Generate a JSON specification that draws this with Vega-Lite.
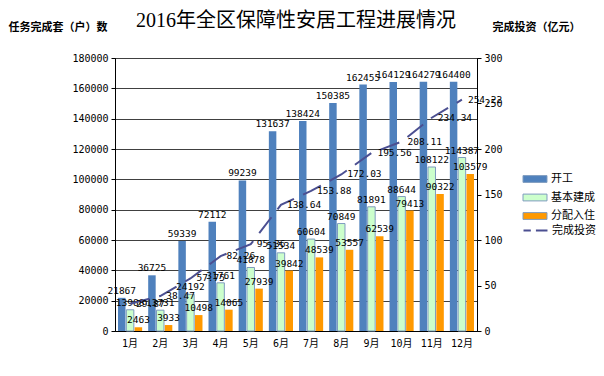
{
  "$schema": "https://vega.github.io/schema/vega-lite/v6.json",
  "width": 362,
  "height": 273,
  "autosize": "none",
  "padding": {"left": 115, "top": 58, "right": 127, "bottom": 45},
  "background": "white",
  "title": {
    "text": "2016年全区保障性安居工程进展情况",
    "font": "Liberation Serif, Noto Sans CJK SC",
    "fontSize": 20,
    "fontWeight": "normal",
    "color": "#000",
    "anchor": "middle",
    "frame": "group",
    "offset": 0,
    "dy": 10
  },
  "config": {
    "view": {"stroke": "#000", "strokeWidth": 1},
    "axis": {"labelColor": "#000", "domainColor": "#000", "tickColor": "#000", "titleColor": "#000"}
  },
  "data": {
    "values": [
      {"m": "1月", "s": "开工", "v": 21867}, {"m": "2月", "s": "开工", "v": 36725}, {"m": "3月", "s": "开工", "v": 59339}, {"m": "4月", "s": "开工", "v": 72112},
      {"m": "5月", "s": "开工", "v": 99239}, {"m": "6月", "s": "开工", "v": 131637}, {"m": "7月", "s": "开工", "v": 138424}, {"m": "8月", "s": "开工", "v": 150385},
      {"m": "9月", "s": "开工", "v": 162455}, {"m": "10月", "s": "开工", "v": 164129}, {"m": "11月", "s": "开工", "v": 164279}, {"m": "12月", "s": "开工", "v": 164400},
      {"m": "1月", "s": "基本建成", "v": 13988}, {"m": "2月", "s": "基本建成", "v": 13731}, {"m": "3月", "s": "基本建成", "v": 24192}, {"m": "4月", "s": "基本建成", "v": 31761},
      {"m": "5月", "s": "基本建成", "v": 41878}, {"m": "6月", "s": "基本建成", "v": 51534}, {"m": "7月", "s": "基本建成", "v": 60604}, {"m": "8月", "s": "基本建成", "v": 70849},
      {"m": "9月", "s": "基本建成", "v": 81891}, {"m": "10月", "s": "基本建成", "v": 88644}, {"m": "11月", "s": "基本建成", "v": 108122}, {"m": "12月", "s": "基本建成", "v": 114387},
      {"m": "1月", "s": "分配入住", "v": 2463}, {"m": "2月", "s": "分配入住", "v": 3933}, {"m": "3月", "s": "分配入住", "v": 10498}, {"m": "4月", "s": "分配入住", "v": 14065},
      {"m": "5月", "s": "分配入住", "v": 27939}, {"m": "6月", "s": "分配入住", "v": 39842}, {"m": "7月", "s": "分配入住", "v": 48539}, {"m": "8月", "s": "分配入住", "v": 53557},
      {"m": "9月", "s": "分配入住", "v": 62539}, {"m": "10月", "s": "分配入住", "v": 79413}, {"m": "11月", "s": "分配入住", "v": 90322}, {"m": "12月", "s": "分配入住", "v": 103579},
      {"m": "1月", "s": "完成投资", "v": 29.87}, {"m": "2月", "s": "完成投资", "v": 38.47}, {"m": "3月", "s": "完成投资", "v": 57.75}, {"m": "4月", "s": "完成投资", "v": 82.26},
      {"m": "5月", "s": "完成投资", "v": 95.36}, {"m": "6月", "s": "完成投资", "v": 138.64}, {"m": "7月", "s": "完成投资", "v": 153.88}, {"m": "8月", "s": "完成投资", "v": 172.03},
      {"m": "9月", "s": "完成投资", "v": 195.56}, {"m": "10月", "s": "完成投资", "v": 208.11}, {"m": "11月", "s": "完成投资", "v": 234.34}, {"m": "12月", "s": "完成投资", "v": 254.22}
    ]
  },
  "encoding": {
    "x": {
      "field": "m",
      "type": "nominal",
      "sort": ["1月", "2月", "3月", "4月", "5月", "6月", "7月", "8月", "9月", "10月", "11月", "12月"],
      "scale": {"paddingInner": 0.2, "paddingOuter": 0.1},
      "axis": {"title": null, "labelAngle": 0, "ticks": false, "labelPadding": 7, "labelFont": "DejaVu Sans Mono, Noto Sans CJK SC", "labelFontSize": 10, "domainColor": "#000"}
    }
  },
  "layer": [
    {
      "transform": [{"filter": "datum.s !== '完成投资'"}],
      "encoding": {
        "xOffset": {"field": "s", "type": "nominal", "sort": ["开工", "基本建成", "分配入住"], "scale": {"paddingInner": 0.1}},
        "y": {
          "field": "v",
          "type": "quantitative",
          "scale": {"domain": [0, 180000], "nice": false},
          "axis": {
            "values": [0, 20000, 40000, 60000, 80000, 100000, 120000, 140000, 160000, 180000],
            "format": "d",
            "grid": true, "gridColor": "#404040", "gridWidth": 1,
            "tickSize": 4, "labelPadding": 3,
            "labelFont": "DejaVu Sans Mono", "labelFontSize": 10,
            "title": "任务完成套（户）数", "titleAngle": 0, "titleAlign": "left", "titleBaseline": "middle",
            "titleX": -107, "titleY": -31, "titleFont": "Noto Sans CJK SC", "titleFontSize": 11, "titleFontWeight": "bold"
          }
        }
      },
      "layer": [
        {
          "mark": {"type": "bar", "strokeWidth": 1},
          "encoding": {
            "fill": {
              "field": "s", "type": "nominal",
              "scale": {"domain": ["开工", "基本建成", "分配入住"], "range": ["#4F81BD", "#CCFFCC", "#FF9900"]},
              "legend": {
                "orient": "none", "legendX": 411, "legendY": 112, "title": null,
                "symbolType": "M-1.41,-0.4H1.41V0.4H-1.41Z",
                "symbolSize": 289, "symbolStrokeColor": "#7F9CBF", "symbolStrokeWidth": 1, "symbolOpacity": 1,
                "rowPadding": 3.5, "labelOffset": 7,
                "labelFont": "Noto Sans CJK SC", "labelFontSize": 11, "labelColor": "#000"
              }
            },
            "stroke": {"condition": {"test": "datum.s === '基本建成'", "value": "#7F9CBF"}, "value": null}
          }
        },
        {
          "mark": {"type": "text", "baseline": "bottom", "dy": -2, "font": "DejaVu Sans Mono", "fontSize": 9.5, "color": "#000"},
          "encoding": {"text": {"field": "v", "type": "quantitative", "format": "d"}}
        }
      ]
    },
    {
      "transform": [{"filter": "datum.s === '完成投资'"}],
      "encoding": {
        "y": {
          "field": "v",
          "type": "quantitative",
          "scale": {"domain": [0, 300], "nice": false},
          "axis": {
            "orient": "right",
            "values": [0, 50, 100, 150, 200, 250, 300],
            "grid": false, "tickSize": 4, "labelPadding": 3,
            "labelFont": "DejaVu Sans Mono", "labelFontSize": 10,
            "title": "完成投资（亿元）", "titleAngle": 0, "titleAlign": "left", "titleBaseline": "middle",
            "titleX": 15, "titleY": -31, "titleFont": "Noto Sans CJK SC", "titleFontSize": 11, "titleFontWeight": "bold"
          }
        }
      },
      "layer": [
        {
          "mark": {"type": "line", "strokeWidth": 2, "strokeDash": [20, 10]},
          "encoding": {
            "stroke": {
              "field": "s", "type": "nominal",
              "scale": {"domain": ["完成投资"], "range": ["#4B4F91"]},
              "legend": {
                "orient": "none", "legendX": 411, "legendY": 163, "title": null,
                "symbolType": "M-1.41,0H-0.55M0.05,0H1.41",
                "symbolSize": 289, "symbolStrokeWidth": 2, "symbolOpacity": 1,
                "rowPadding": 0, "labelOffset": 7,
                "labelFont": "Noto Sans CJK SC", "labelFontSize": 11, "labelColor": "#000"
              }
            }
          }
        },
        {
          "mark": {"type": "text", "align": "left", "baseline": "middle", "dx": 6, "font": "DejaVu Sans Mono", "fontSize": 9.5, "color": "#000"},
          "encoding": {"text": {"field": "v", "type": "quantitative", "format": ".2f"}}
        }
      ]
    }
  ],
  "resolve": {"scale": {"y": "independent"}}
}
